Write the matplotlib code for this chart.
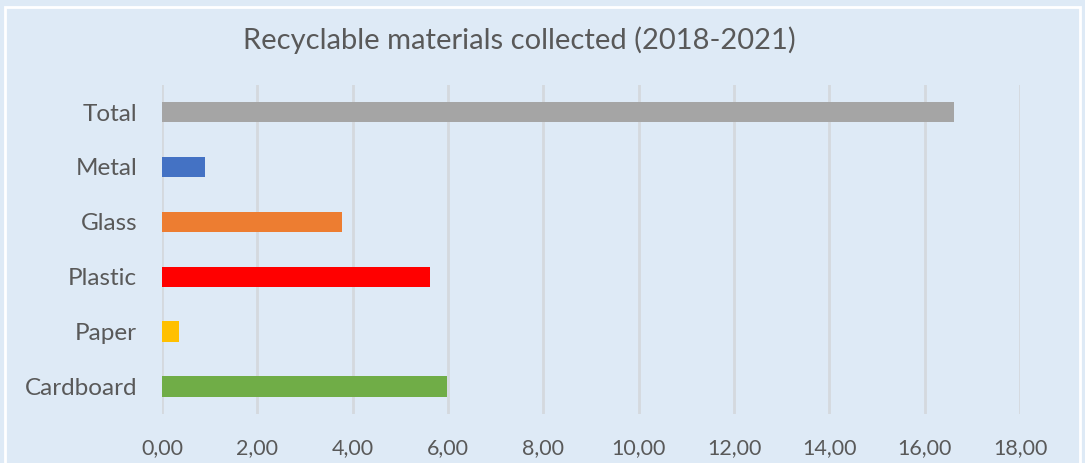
import matplotlib.pyplot as plt
from matplotlib.patches import Rectangle
from matplotlib.ticker import FuncFormatter

materials = ['Cardboard', 'Paper', 'Plastic', 'Glass', 'Metal', 'Total']
amounts = [5.97, 0.36, 5.63, 3.77, 0.90, 16.62]
colors = ['#70AD47', '#FFC000', '#FF0000', '#ED7D31', '#4472C4', '#A5A5A5']
xticks = [0, 2, 4, 6, 8, 10, 12, 14, 16, 18]

bg = '#DEEAF6'
txt = '#595959'
plt.rcParams['font.family'] = ['Lato', 'DejaVu Sans']

fig = plt.figure(figsize=(10.85, 4.63), dpi=100, facecolor=bg)
fig.patches.append(Rectangle((5 / 1085, -0.05), 1075 / 1085, 1.05 - 7 / 463,
                             transform=fig.transFigure, fill=False,
                             edgecolor='white', linewidth=2))

ax = fig.add_axes([162 / 1085, 1 - 414 / 463, 858 / 1085, (414 - 84.6) / 463])
ax.set_facecolor(bg)
ax.barh(range(len(materials)), amounts, height=0.37, color=colors, zorder=3)

ax.set_xlim(0, 18)
ax.set_ylim(-0.5, len(materials) - 0.5)
ax.set_xticks(xticks)
ax.xaxis.set_major_formatter(FuncFormatter(lambda v, p: f'{v:.2f}'.replace('.', ',')))
ax.set_yticks(range(len(materials)))
ax.set_yticklabels(materials)
ax.grid(axis='x', color='#D4D9DE', linewidth=2, zorder=0)
for s in ax.spines.values():
    s.set_visible(False)
ax.tick_params(axis='x', length=0, pad=17, labelsize=15.5, colors=txt)
ax.tick_params(axis='y', length=0, pad=18, labelsize=17.5, colors=txt)

fig.text(519 / 1085, 1 - 40 / 463, 'Recyclable materials collected (2018-2021)',
         ha='center', va='center', fontsize=21, color=txt)

fig.savefig('out.png', dpi=100, facecolor=bg)
